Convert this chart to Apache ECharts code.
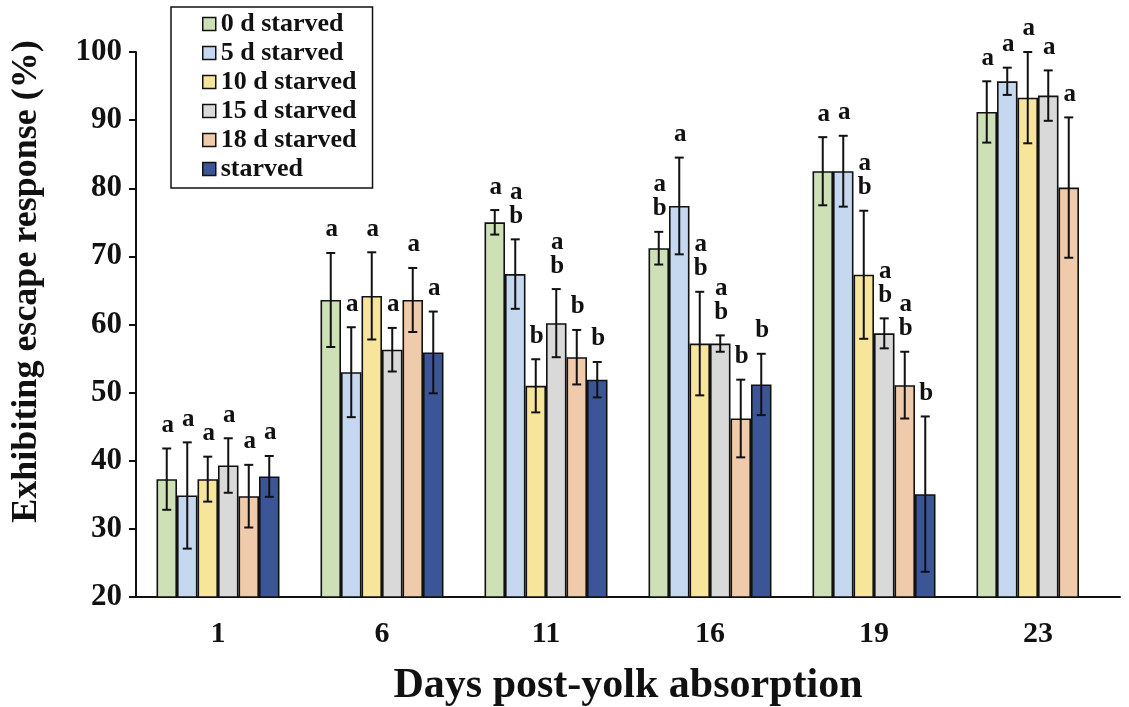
<!DOCTYPE html>
<html>
<head>
<meta charset="utf-8">
<script src="https://cdn.jsdelivr.net/npm/echarts@6/dist/echarts.min.js"></script>
<style>
html,body{margin:0;padding:0;background:#fff;}
#chart{width:1129px;height:707px;}
</style>
</head>
<body>
<div id="chart"></div>
<script>
// ---- data ----
const categories = ['1', '6', '11', '16', '19', '23'];
const seriesNames = ['0 d starved', '5 d starved', '10 d starved', '15 d starved', '18 d starved', 'starved'];

const mean0  = [37.3, 63.6, 75.0, 71.2, 82.5, 91.2];
const err0   = [4.5, 6.9, 1.8, 2.4, 5.0, 4.5];
const let0   = ['a', 'a', 'a', 'ab', 'a', 'a'];

const mean5  = [34.9, 53.0, 67.4, 77.4, 82.5, 95.7];
const err5   = [7.8, 6.6, 5.1, 7.1, 5.2, 2.0];
const let5   = ['a', 'a', 'ab', 'a', 'a', 'a'];

const mean10 = [37.3, 64.2, 51.0, 57.2, 67.3, 93.3];
const err10  = [3.3, 6.4, 3.9, 7.6, 9.4, 6.7];
const let10  = ['a', 'a', 'b', 'ab', 'ab', 'a'];

const mean15 = [39.3, 56.3, 60.2, 57.2, 58.7, 93.6];
const err15  = [4.0, 3.2, 5.0, 1.2, 2.2, 3.7];
const let15  = ['a', 'a', 'ab', 'ab', 'ab', 'a'];

const mean18 = [34.8, 63.6, 55.2, 46.2, 51.1, 80.1];
const err18  = [4.6, 4.7, 4.0, 5.7, 4.9, 10.3];
const let18  = ['a', 'a', 'b', 'b', 'ab', 'a'];

const meanS  = [37.7, 55.9, 51.9, 51.2, 35.1, null];
const errS   = [3.0, 6.0, 2.6, 4.5, 11.4, null];
const letS   = ['a', 'a', 'b', 'b', 'b', ''];

const yTicks = [20, 30, 40, 50, 60, 70, 80, 90, 100];

// ---- styling ----
const means = [mean0, mean5, mean10, mean15, mean18, meanS];
const errs = [err0, err5, err10, err15, err18, errS];
const letters = [let0, let5, let10, let15, let18, letS];
const colors = ['#cde0b6', '#c5d8ef', '#f6e59a', '#d9d9d9', '#f0cbab', '#3b5597'];
const FONT = '"Liberation Serif", "Times New Roman", serif';
const NSER = seriesNames.length;
const CAT_GAP = 0.25;

const chart = echarts.init(document.getElementById('chart'));

const barSeries = seriesNames.map((name, i) => ({
  name: name,
  type: 'bar',
  data: means[i],
  barGap: '0%',
  barCategoryGap: (CAT_GAP * 100) + '%',
  itemStyle: { color: colors[i], borderColor: '#111', borderWidth: 1.6 },
  emphasis: { disabled: true },
  z: 2
}));

// error bars + significance letters
const errData = [];
means.forEach((arr, s) => {
  arr.forEach((v, c) => {
    if (v != null) errData.push([c, v, errs[s][c], s]);
  });
});

const errSeries = {
  type: 'custom',
  name: 'err',
  data: errData,
  encode: { x: 0, y: 1 },
  z: 5,
  silent: true,
  renderItem: function (params, api) {
    const c = api.value(0), v = api.value(1), e = api.value(2), s = api.value(3);
    const band = api.size([1, 0])[0];
    const bw = band * (1 - CAT_GAP) / NSER;
    const cx = api.coord([c, v])[0] + (s - (NSER - 1) / 2) * bw;
    const yt = api.coord([c, v + e])[1];
    const yb = api.coord([c, v - e])[1];
    const cap = 4.5;
    const st = { stroke: '#111', lineWidth: 2 };
    const children = [
      { type: 'line', shape: { x1: cx, y1: yt, x2: cx, y2: yb }, style: st },
      { type: 'line', shape: { x1: cx - cap, y1: yt, x2: cx + cap, y2: yt }, style: st },
      { type: 'line', shape: { x1: cx - cap, y1: yb, x2: cx + cap, y2: yb }, style: st }
    ];
    const str = letters[s][c] || '';
    const n = str.length;
    for (let k = 0; k < n; k++) {
      children.push({
        type: 'text',
        style: {
          text: str[k],
          x: cx + 1,
          y: yt - 23 - (n - 1 - k) * 24,
          align: 'center',
          verticalAlign: 'middle',
          font: 'bold 25px ' + FONT,
          fill: '#111'
        }
      });
    }
    return { type: 'group', children: children };
  }
};

chart.setOption({
  animation: false,
  backgroundColor: '#fff',
  grid: { left: 136, right: 9, top: 52, bottom: 110, outerBoundsMode: 'none', containLabel: false },
  legend: {
    data: seriesNames,
    orient: 'vertical',
    left: 171,
    top: 7,
    icon: 'rect',
    itemWidth: 13,
    itemHeight: 13,
    itemGap: 3,
    padding: [4, 16, 6, 31],
    borderColor: '#111',
    borderWidth: 1.5,
    itemStyle: { borderColor: '#111', borderWidth: 1.5 },
    textStyle: { fontFamily: FONT, fontWeight: 'bold', fontSize: 26, color: '#111', lineHeight: 26 },
    selectedMode: false
  },
  xAxis: {
    type: 'category',
    data: categories,
    axisLine: { lineStyle: { color: '#111', width: 2 } },
    axisTick: { length: 8, lineStyle: { color: '#111', width: 2 } },
    axisLabel: { fontFamily: FONT, fontWeight: 'bold', fontSize: 30, color: '#111', margin: 22 },
    name: 'Days post-yolk absorption',
    nameLocation: 'middle',
    nameGap: 68,
    nameTextStyle: { fontFamily: FONT, fontWeight: 'bold', fontSize: 42, color: '#111' }
  },
  yAxis: {
    type: 'value',
    min: yTicks[0],
    max: yTicks[yTicks.length - 1],
    interval: yTicks[1] - yTicks[0],
    splitLine: { show: false },
    axisLine: { show: true, lineStyle: { color: '#111', width: 2 } },
    axisTick: { show: true, length: 7, lineStyle: { color: '#111', width: 2 } },
    axisLabel: { fontFamily: FONT, fontWeight: 'bold', fontSize: 31, color: '#111', margin: 14 },
    name: 'Exhibiting escape response (%)',
    nameLocation: 'middle',
    nameGap: 91,
    nameTextStyle: { fontFamily: FONT, fontWeight: 'bold', fontSize: 36, color: '#111', padding: [0, 0, 0, 86] }
  },
  series: barSeries.concat([errSeries])
});
</script>
</body>
</html>
